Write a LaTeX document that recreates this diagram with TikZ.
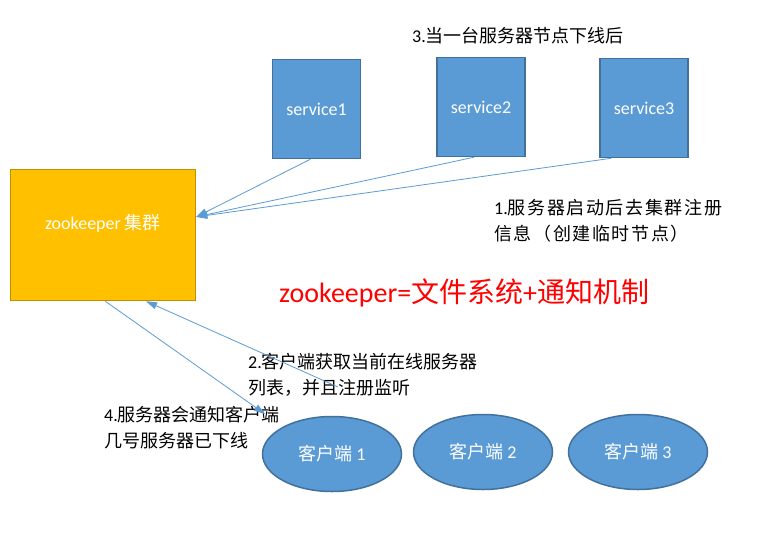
\documentclass[tikz,border=0pt]{standalone}
\usepackage{fontspec}
\setmainfont{Carlito}
\newfontfamily\cjk{Noto Sans CJK SC}
\newfontfamily\cjkwide[LetterSpace=9]{Noto Sans CJK SC}
\usetikzlibrary{arrows.meta,shapes.geometric}
\definecolor{zkgold}{HTML}{FFC000}
\definecolor{zkedge}{HTML}{BF9000}
\definecolor{svcblue}{HTML}{5B9BD5}
\definecolor{svcedge}{HTML}{41719C}
\newcommand{\fsz}[1]{\fontsize{#1}{26}\selectfont}

\begin{document}
\begin{tikzpicture}[x=1pt, y=-1pt,
  svc/.style={draw=svcedge, fill=svcblue, line width=1.5pt, minimum width=88pt, minimum height=99pt, text=white, font=\fsz{18}},
  client/.style={ellipse, draw=svcedge, fill=svcblue, line width=1.5pt, minimum width=139pt, minimum height=75pt, text=white, font=\fsz{18}},
  link/.style={draw=svcblue, line width=0.8pt, -{Triangle[length=11pt,width=7pt]}},
  note/.style={anchor=west, align=left, inner sep=0pt, font=\cjk\fsz{18}, text=black}]
\fill[white] (0,0) rectangle (760,541);
\useasboundingbox (0,0) rectangle (760,541);

% zookeeper cluster
\node[draw=zkedge, fill=zkgold, line width=1.5pt, minimum width=185pt, minimum height=131pt,
      text=white, align=center, font=\fsz{18}] (zk) at (103,235) {zookeeper {\cjk 集群}\\ \mbox{}};

% services
\node[svc] (service1) at (316.5,109) {service1};
\node[svc] (service2) at (481,107) {service2};
\node[svc] (service3) at (644,108) {service3};

% clients
\node[client] (client1) at (332,454) {{\cjk 客户端} 1};
\node[client] (client2) at (483,452) {{\cjk 客户端} 2};
\node[client] (client3) at (638,452) {{\cjk 客户端} 3};

% notes
\node[note] (note3) at (412,36) {{\fontspec{Carlito}3.}当一台服务器节点下线后};
\node[note, font=\cjkwide\fsz{18}] (note1) at (494,220.5) {{\fontspec{Carlito}1.}服务器启动后去集群注册\\信息（创建临时节点）};
\node[note] (note2) at (248,374.5) {{\fontspec{Carlito}2.}客户端获取当前在线服务器\\列表，并且注册监听};
\node[note] (note4) at (104,428) {{\fontspec{Carlito}4.}服务器会通知客户端\\几号服务器已下线};
\node[anchor=west, inner sep=0pt, text=red, font=\fsz{28}] (formula) at (279,293)
  {zookeeper={\cjk 文件系统}+{\cjk 通知机制}};

% connectors
\draw[link] (service1.-97) -- (zk.11);
\draw[link] (service2.-98) -- (zk.11);
\draw[link] (service3.-123) -- (zk.11);
\coordinate (listen) at (338,387);
\draw[link] (listen) -- (zk.-57.5);
\coordinate (notify) at (265,414);
\draw[link] (zk.-88) -- (notify);
\end{tikzpicture}
\end{document}
